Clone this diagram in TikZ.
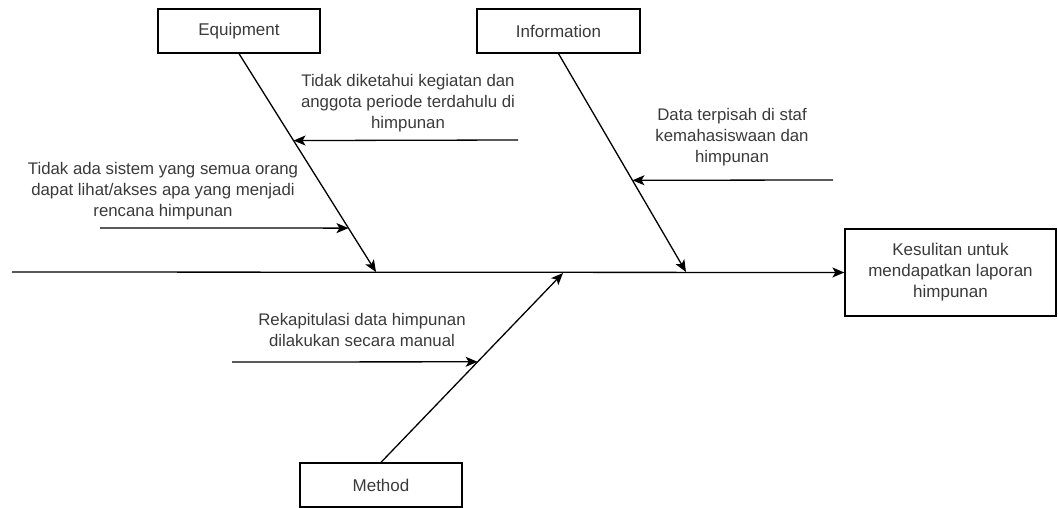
\documentclass[tikz,border=0pt]{standalone}
\usepackage{fontspec}
\setmainfont{Liberation Sans}
\usetikzlibrary{arrows.meta,calc}
\definecolor{txt}{HTML}{3A3A3A}
\tikzset{
  x=1pt, y=-1pt,
  box/.style={draw=black, line width=1.3pt, fill=white, inner sep=0pt, minimum height=44pt, text=txt, font=\fontsize{17}{21}\selectfont},
  lbl/.style={align=center, inner sep=0pt, text=txt, font=\fontsize{16.8}{21}\selectfont},
  arr/.style={draw=black, line width=1.3pt, -{Stealth[length=12pt,width=10pt,inset=3pt]}}
}
\begin{document}
\begin{tikzpicture}
\useasboundingbox (0,0) rectangle (1058,508);
% boxes
\node[box, minimum width=162pt] (eq) at (239,31) {Equipment};
\node[box, minimum width=163pt] (inf) at (558.5,31) {Information};
\node[box, minimum width=162pt] (me) at (381,485) {Method};
\node[box, minimum width=211pt, minimum height=87pt, align=center] (eff) at (950.5,272.5) {Kesulitan untuk\\mendapatkan laporan\\himpunan};
% spine
\coordinate (s0) at (12,272);
\draw[arr] (s0) -- (eff.west);
% bone ends
\coordinate (eqE) at (376,272);
\coordinate (infE) at (686,272);
\coordinate (meE) at (563,273);
\draw[arr] (eq.south) -- (eqE);
\draw[arr] (inf.south) -- (infE);
\draw[arr] (me.north) -- (meE);
% causes
\coordinate (c1s) at (518,140);
\coordinate (c1e) at ($(eq.south)!0.398!(eqE)$);
\coordinate (c2s) at (100,228);
\coordinate (c2e) at ($(eq.south)!0.799!(eqE)$);
\coordinate (c3s) at (833,180);
\coordinate (c3e) at ($(inf.south)!0.580!(infE)$);
\coordinate (c4s) at (232,362);
\coordinate (c4e) at ($(me.north)!0.531!(meE)$);
\draw[arr] (c1s) -- (c1e);
\draw[arr] (c2s) -- (c2e);
\draw[arr] (c3s) -- (c3e);
\draw[arr] (c4s) -- (c4e);
% labels
\node[lbl] (t1) at (408,103) {Tidak diketahui kegiatan dan\\anggota periode terdahulu di\\himpunan};
\node[lbl] (t2) at (163,191) {Tidak ada sistem yang semua orang\\dapat lihat/akses apa yang menjadi\\rencana himpunan};
\node[lbl] (t3) at (732,137.5) {Data terpisah di staf\\kemahasiswaan dan\\himpunan};
\node[lbl] (t4) at (362,330) {Rekapitulasi data himpunan\\dilakukan secara manual};
\end{tikzpicture}
\end{document}
